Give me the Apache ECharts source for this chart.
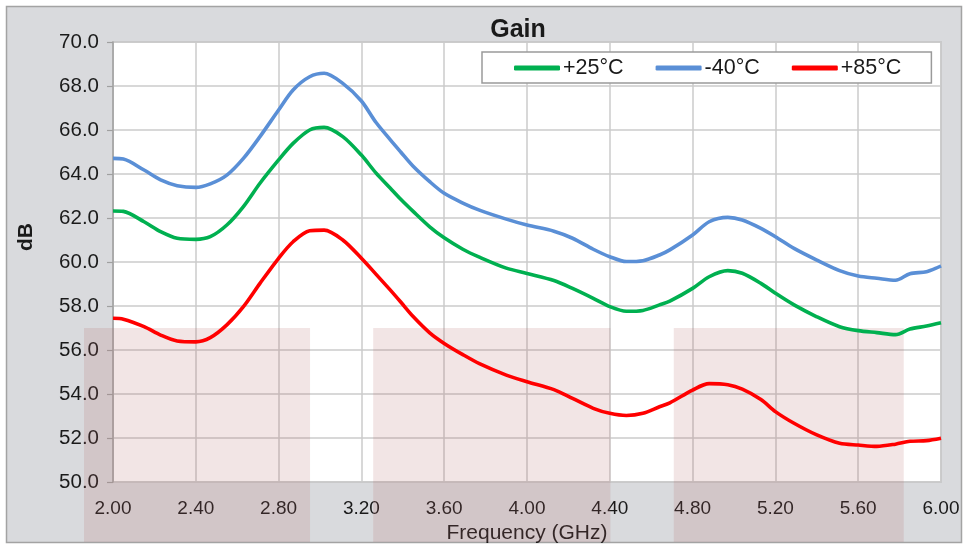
<!DOCTYPE html>
<html><head><meta charset="utf-8">
<script src="https://cdn.jsdelivr.net/npm/echarts@6/dist/echarts.min.js"></script>
<style>html,body{margin:0;padding:0;background:#fff}#c{width:966px;height:545px}</style>
</head><body><div id="c"></div>
<script>
// Frequency (GHz)
const freq = [2.00,2.05,2.15,2.23,2.31,2.40,2.47,2.55,2.63,2.71,2.80,2.87,2.95,3.02,3.11,3.20,3.27,3.34,3.39,3.45,3.53,3.60,3.69,3.77,3.90,4.00,4.13,4.22,4.32,4.40,4.48,4.56,4.64,4.69,4.80,4.88,4.97,5.04,5.13,5.20,5.29,5.40,5.51,5.60,5.69,5.78,5.85,5.93,6.00];
// +25°C
const gain25 = [62.32,62.30,61.83,61.38,61.08,61.03,61.15,61.68,62.52,63.58,64.64,65.39,66.00,66.12,65.70,64.86,64.05,63.35,62.85,62.30,61.60,61.10,60.58,60.22,59.72,59.48,59.16,58.80,58.35,57.97,57.76,57.80,58.05,58.22,58.80,59.33,59.61,59.49,59.03,58.58,58.05,57.51,57.06,56.88,56.79,56.70,56.95,57.09,57.24];
// -40°C
const gainM40 = [64.71,64.68,64.18,63.73,63.47,63.39,63.55,63.95,64.71,65.70,66.91,67.82,68.42,68.58,68.12,67.32,66.35,65.55,65.00,64.35,63.65,63.12,62.68,62.36,61.95,61.68,61.40,61.08,60.58,60.24,60.02,60.06,60.32,60.55,61.23,61.83,62.03,61.91,61.53,61.15,60.62,60.09,59.61,59.36,59.26,59.17,59.47,59.56,59.82];
// +85°C
const gain85 = [57.44,57.40,57.06,56.68,56.41,56.37,56.56,57.14,57.97,59.03,60.17,60.92,61.42,61.45,61.00,60.17,59.45,58.72,58.18,57.52,56.78,56.30,55.79,55.38,54.86,54.56,54.20,53.80,53.35,53.12,53.02,53.12,53.42,53.60,54.18,54.47,54.42,54.22,53.75,53.20,52.67,52.14,51.76,51.68,51.62,51.72,51.85,51.88,51.99];
const seriesNames = ['+25°C','-40°C','+85°C'];
// Background shaded bands (watermark): frequency ranges, top at dB level
const bandRanges = [[1.86,2.952],[3.257,4.403],[4.709,5.82]];
const bandTop = 57.0;

const chart = echarts.init(document.getElementById('c'));
const font = 'Liberation Sans, Arial, sans-serif';
const pairs = arr => freq.map((f,i)=>[f, arr[i]]);
const lineSeries = (name, data, color) => ({
  name, type:'line', data: pairs(data), symbol:'none', smooth:0.3,
  lineStyle:{color, width:3.6}, itemStyle:{color}, z:3
});

chart.setOption({
  animation:false,
  backgroundColor:'#ffffff',
  title:{text:'Gain', left:513, top:13, textAlign:'center',
    textStyle:{fontFamily:font, fontSize:25, fontWeight:'bold', color:'#1a1a1a'}},
  legend:{
    data:seriesNames, left:482, top:52, orient:'horizontal',
    backgroundColor:'#ffffff', borderColor:'#9a9a9a', borderWidth:1.5,
    padding:[5,30,4,32], itemGap:32, itemWidth:46, itemHeight:5, icon:'roundRect',
    textStyle:{fontFamily:font, fontSize:21.5, color:'#1a1a1a', padding:[0,0,0,-2]}
  },
  grid:{left:113, right:25, top:42, bottom:63, outerBoundsMode:'none', containLabel:false,
    show:true, backgroundColor:'#ffffff', borderColor:'#bdbdbd', borderWidth:1.5, z:0},
  xAxis:{
    type:'value', min:2, max:6, interval:0.4,
    name:'Frequency (GHz)', nameLocation:'middle', nameGap:35,
    nameTextStyle:{fontFamily:font, fontSize:21, color:'#1a1a1a'},
    axisLine:{show:false}, axisTick:{show:false},
    axisLabel:{fontFamily:font, fontSize:19, color:'#1a1a1a', margin:17,
      showMinLabel:true, showMaxLabel:true, formatter:v=>v.toFixed(2)},
    splitLine:{show:true, lineStyle:{color:'#cbcbcb', width:1.5}}
  },
  yAxis:{
    type:'value', min:50, max:70, interval:2,
    axisLine:{show:true, lineStyle:{color:'#a0a0a0', width:1.5}},
    axisTick:{show:true, length:6, lineStyle:{color:'#a0a0a0', width:1.2}},
    axisLabel:{fontFamily:font, fontSize:20.5, color:'#1a1a1a', margin:14, formatter:v=>v.toFixed(1)},
    splitLine:{show:true, lineStyle:{color:'#cbcbcb', width:1.5}}
  },
  series:[
    lineSeries(seriesNames[0], gain25, '#00b050'),
    lineSeries(seriesNames[1], gainM40, '#5a8fd6'),
    lineSeries(seriesNames[2], gain85, '#ff0000')
  ]
});

const H = 545;
const yTop = chart.convertToPixel({yAxisIndex:0}, bandTop);
const bands = bandRanges.map(r => {
  const x0 = chart.convertToPixel({xAxisIndex:0}, r[0]);
  const x1 = chart.convertToPixel({xAxisIndex:0}, r[1]);
  return {type:'rect', z:1, silent:true,
    shape:{x:x0, y:yTop, width:x1-x0, height:(H-3)-yTop},
    style:{fill:'rgba(180,100,100,0.17)'}};
});
chart.setOption({
  graphic:[
    {type:'rect', z:-5, silent:true, shape:{x:6.5, y:6.5, width:955, height:536},
      style:{fill:'#d9dadd', stroke:'#a3a3a3', lineWidth:1.5}},
    ...bands,
    {type:'text', z:5, x:26, y:237, rotation:Math.PI/2,
      style:{text:'dB', fontFamily:font, fontSize:21, fontWeight:'bold', fill:'#1a1a1a',
        textAlign:'center', textVerticalAlign:'middle'}}
  ]
});
</script>
</body></html>
